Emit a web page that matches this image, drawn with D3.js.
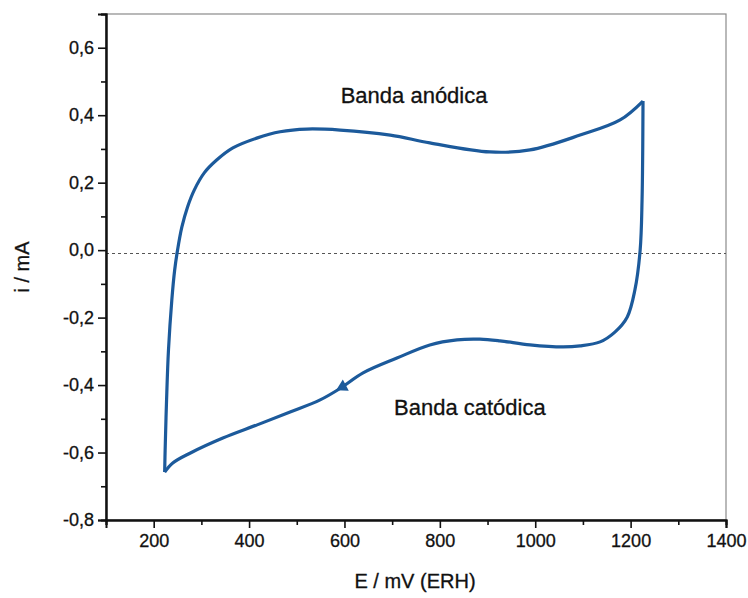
<!DOCTYPE html>
<html>
<head>
<meta charset="utf-8">
<script src="https://cdn.jsdelivr.net/npm/d3@7"></script>
<style>
  body { margin: 0; background: #fff; }
  text { font-family: "Liberation Sans", Arial, sans-serif; fill: #111; }
</style>
</head>
<body>
<div id="chart"></div>
<script>
// anodic sweep (E in mV, i in mA)
const anodicE = [223, 224, 227, 231, 238, 244, 250, 259, 271, 285, 306, 332, 366, 416, 465, 521, 591, 696, 779, 905, 989, 1094, 1178, 1226];
const anodicI = [-0.658, -0.593, -0.444, -0.296, -0.148, -0.059, 0.0, 0.068, 0.128, 0.178, 0.229, 0.267, 0.303, 0.332, 0.351, 0.359, 0.356, 0.341, 0.318, 0.291, 0.297, 0.341, 0.386, 0.442];

// cathodic sweep, back from the vertex
const cathodicE = [1226, 1224, 1220, 1209, 1193, 1167, 1136, 1094, 1058, 989, 926, 884, 836, 779, 710, 639, 591, 549, 486, 417, 345, 276, 240, 223];
const cathodicI = [0.442, 0.149, 0.0, -0.118, -0.198, -0.243, -0.272, -0.284, -0.287, -0.281, -0.269, -0.264, -0.266, -0.281, -0.320, -0.364, -0.410, -0.444, -0.480, -0.518, -0.557, -0.602, -0.631, -0.658];

const xTicks = [200, 400, 600, 800, 1000, 1200, 1400];
const xMinor = [100, 300, 500, 700, 900, 1100, 1300];
const yTicks = [-0.8, -0.6, -0.4, -0.2, 0.0, 0.2, 0.4, 0.6];
const yMinor = [-0.7, -0.5, -0.3, -0.1, 0.1, 0.3, 0.5, 0.7];

const zeroLine = -0.01;
const notes = [
  { text: "Banda anódica", E: 746, i: 0.436 },
  { text: "Banda catódica", E: 863, i: -0.489 }
];
const arrowAt = { E: 596, i: -0.405 };

const width = 748, height = 598;
const margin = { top: 14, right: 22, bottom: 78, left: 106 };

const svg = d3.select("#chart").append("svg")
  .attr("width", width)
  .attr("height", height);

const x = d3.scaleLinear().domain([100, 1400]).range([margin.left, width - margin.right]);
const y = d3.scaleLinear().domain([-0.8, 0.7]).range([height - margin.bottom, margin.top]);

const fmt = d => d3.format(".1f")(d).replace(".", ",").replace("−", "-");

// frame (top and right in grey)
svg.append("rect")
  .attr("x", x(100)).attr("y", y(0.7))
  .attr("width", x(1400) - x(100)).attr("height", y(-0.8) - y(0.7))
  .attr("fill", "none").attr("stroke", "#8a8a8a").attr("stroke-width", 1.2);

// zero reference
svg.append("line")
  .attr("x1", x(100)).attr("x2", x(1400))
  .attr("y1", y(zeroLine)).attr("y2", y(zeroLine))
  .attr("stroke", "#555").attr("stroke-width", 1)
  .attr("stroke-dasharray", "3,3");

// axes
svg.append("g")
  .attr("transform", `translate(0,${y(-0.8)})`)
  .call(d3.axisBottom(x).tickValues(xTicks).tickSize(8).tickPadding(6).tickFormat(d3.format("d")));
svg.append("g")
  .attr("transform", `translate(0,${y(-0.8)})`)
  .call(d3.axisBottom(x).tickValues(xMinor).tickSize(5).tickFormat(""));

svg.append("g")
  .attr("transform", `translate(${x(100)},0)`)
  .call(d3.axisLeft(y).tickValues(yTicks).tickSize(8).tickPadding(4).tickFormat(fmt));
svg.append("g")
  .attr("transform", `translate(${x(100)},0)`)
  .call(d3.axisLeft(y).tickValues(yMinor).tickSize(5).tickFormat(""));

svg.selectAll(".domain").attr("stroke", "#111").attr("stroke-width", 2);
svg.selectAll(".tick line").attr("stroke", "#111").attr("stroke-width", 1.6);
svg.selectAll(".tick text").attr("font-size", 18).attr("fill", "#111")
  .attr("stroke", "#111").attr("stroke-width", 0.3)
  .attr("font-family", "'Liberation Sans', Arial, sans-serif");

// axis titles
svg.append("text")
  .attr("x", 415).attr("y", 588)
  .attr("text-anchor", "middle").attr("font-size", 20)
  .attr("stroke", "#111").attr("stroke-width", 0.3)
  .text("E / mV (ERH)");
svg.append("text")
  .attr("transform", `translate(29,${(y(0.7) + y(-0.8)) / 2}) rotate(-90)`)
  .attr("text-anchor", "middle").attr("font-size", 20)
  .attr("stroke", "#111").attr("stroke-width", 0.3)
  .text("i / mA");

// voltammogram
const line = d3.line()
  .x(d => x(d[0]))
  .y(d => y(d[1]))
  .curve(d3.curveCatmullRom.alpha(0.5));

const branches = [
  d3.zip(anodicE, anodicI),
  d3.zip(cathodicE, cathodicI)
];
svg.selectAll(".branch")
  .data(branches)
  .enter().append("path")
  .attr("class", "branch")
  .attr("d", line)
  .attr("fill", "none")
  .attr("stroke", "#1c5a9b")
  .attr("stroke-width", 3.2)
  .attr("stroke-linejoin", "round");

// little arrowhead on the cathodic sweep
svg.append("path")
  .attr("d", d3.symbol().type(d3.symbolTriangle).size(70))
  .attr("transform", `translate(${x(arrowAt.E)},${y(arrowAt.i)}) rotate(-118)`)
  .attr("fill", "#1c5a9b");

// labels
svg.selectAll(".note")
  .data(notes)
  .enter().append("text")
  .attr("class", "note")
  .attr("x", d => x(d.E))
  .attr("y", d => y(d.i))
  .attr("text-anchor", "middle")
  .attr("font-size", 22)
  .attr("stroke", "#111").attr("stroke-width", 0.3)
  .text(d => d.text);
</script>
</body>
</html>
